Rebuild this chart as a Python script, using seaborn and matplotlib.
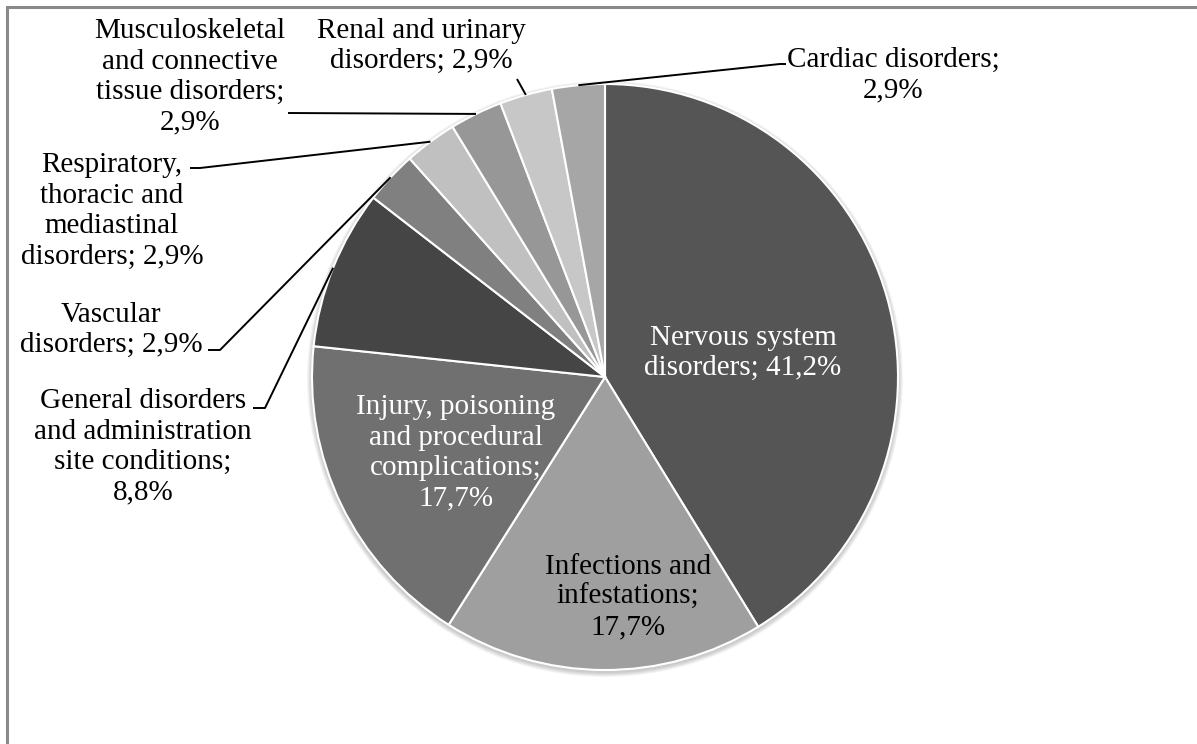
import numpy as np
import matplotlib
matplotlib.use("Agg")
import matplotlib.pyplot as plt
from matplotlib.patches import Circle
import seaborn as sns

# data (clockwise from 12 o'clock)
categories = [
    "Nervous system disorders",
    "Infections and infestations",
    "Injury, poisoning and procedural complications",
    "General disorders and administration site conditions",
    "Vascular disorders",
    "Respiratory, thoracic and mediastinal disorders",
    "Musculoskeletal and connective tissue disorders",
    "Renal and urinary disorders",
    "Cardiac disorders",
]
shares = [41.2, 17.7, 17.7, 8.8, 2.9, 2.9, 2.9, 2.9, 2.9]
label_templates = [
    "Nervous system\ndisorders; {}",
    "Infections and\ninfestations;\n{}",
    "Injury, poisoning\nand procedural\ncomplications;\n{}",
    "General disorders\nand administration\nsite conditions;\n{}",
    "Vascular\ndisorders; {}",
    "Respiratory,\nthoracic and\nmediastinal\ndisorders; {}",
    "Musculoskeletal\nand connective\ntissue disorders;\n{}",
    "Renal and urinary\ndisorders; {}",
    "Cardiac disorders;\n{}",
]
slice_colors = ["#555555", "#9f9f9f", "#707070", "#454545", "#808080",
                "#c0c0c0", "#979797", "#c7c7c7", "#a6a6a6"]
text_colors = ["white", "black", "white", "black", "black",
               "black", "black", "black", "black"]

# layout in pixel units (y from top)
W, H = 1197, 744
pie_center = (605, 377)
pie_radius = 293
label_pos = [(743, 353), (628, 597), (456, 453), (143, 447), (111, 330),
             (112, 211), (190, 77), (421, 46), (893, 75)]
# leader points from label side toward the slice (None = inside label)
leader_pts = [None, None, None,
              [(253, 408), (265, 408)],
              [(208, 350), (220, 350)],
              [(190, 168), (200, 168)],
              [(288, 113)],
              [(517, 79)],
              [(786, 64), (780, 64)]]


def P(x, y):
    return x, H - y


sns.set_theme(style="white")
plt.rcParams["font.family"] = ["Liberation Serif", "DejaVu Serif"]

fig = plt.figure(figsize=(W / 100, H / 100), dpi=100)
ax = fig.add_axes([0, 0, 1, 1])

cx, cy = P(*pie_center)

# soft shadow under the pie
for k in range(6):
    ax.add_patch(Circle((cx, cy - 2), pie_radius + 1 + k * 0.8, color="black",
                        alpha=0.035, lw=0, zorder=0))

wedges, _ = ax.pie(shares, colors=slice_colors, startangle=90, counterclock=False,
                   center=(cx, cy), radius=pie_radius, frame=True,
                   wedgeprops=dict(edgecolor="white", linewidth=1.5))
ax.set_xlim(0, W)
ax.set_ylim(0, H)
ax.set_aspect("equal")
ax.axis("off")

for i, w in enumerate(wedges):
    val = f"{shares[i]:.1f}%".replace(".", ",")
    tx, ty = P(*label_pos[i])
    ax.text(tx, ty, label_templates[i].format(val), ha="center", va="center",
            fontsize=21, color=text_colors[i], linespacing=1.22, zorder=5)
    if leader_pts[i] is not None:
        mid = np.deg2rad((w.theta1 + w.theta2) / 2)
        rim = (cx + pie_radius * np.cos(mid), cy + pie_radius * np.sin(mid))
        pts = [P(*p) for p in leader_pts[i]] + [rim]
        xs, ys = zip(*pts)
        ax.plot(xs, ys, color="black", lw=1.4, zorder=4, solid_capstyle="butt")

# chart area border (left and top edges visible)
ax.plot(*zip(P(7, H), P(7, 7), P(W, 7)), color="#8a8a8a", lw=2.2,
        solid_joinstyle="miter")

fig.savefig("out.png", dpi=100, facecolor="white")
